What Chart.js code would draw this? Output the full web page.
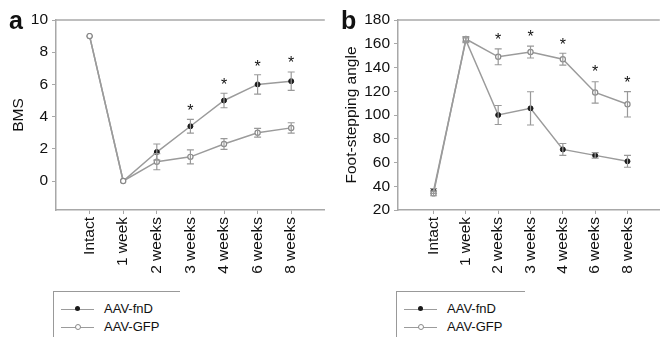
<!DOCTYPE html>
<html>
<head>
<meta charset="utf-8">
<script src="https://cdn.jsdelivr.net/npm/chart.js@4"></script>
<style>
  body{margin:0;background:#fff;font-family:"Liberation Sans",Arial,sans-serif;}
  #wrap{position:relative;width:665px;height:337px;overflow:hidden;}
  canvas{position:absolute;top:0;}
  .letter{position:absolute;font-weight:bold;font-size:25px;color:#111;line-height:1;}
  .legend{position:absolute;top:291px;height:60px;border-top:1px solid #999;border-left:1px solid #999;}
  .row{position:absolute;left:0;height:16px;font-size:13px;color:#111;}
  .sym{position:absolute;left:7px;top:8px;width:33px;border-top:1.5px solid #9b9b9b;}
  .dot{position:absolute;left:14px;top:-4px;width:5px;height:5px;border-radius:50%;}
  .txt{position:absolute;left:50px;top:0;white-space:nowrap;}
</style>
</head>
<body>
<div id="wrap">
  <canvas id="chartA" width="330" height="285" style="left:0"></canvas>
  <canvas id="chartB" width="335" height="285" style="left:330px"></canvas>
  <div class="letter" style="left:9px;top:8px">a</div>
  <div class="letter" style="left:341px;top:8px">b</div>
  <div class="legend" id="legA" style="left:53px;width:126px"></div>
  <div class="legend" id="legB" style="left:396px;width:128px"></div>
</div>
<script>
// categories
const cats = ['Intact', '1 week', '2 weeks', '3 weeks', '4 weeks', '6 weeks', '8 weeks'];
const seriesNames = ['AAV-fnD', 'AAV-GFP'];

// panel a: BMS
const bmsFnd = [9, 0, 1.8, 3.4, 5.0, 6.0, 6.2];
const bmsFndErr = [0, 0, 0.5, 0.43, 0.45, 0.6, 0.57];
const bmsGfp = [9, 0, 1.2, 1.5, 2.3, 3.0, 3.3];
const bmsGfpErr = [0, 0, 0.5, 0.43, 0.33, 0.27, 0.32];
const bmsStars = [null, null, null, 4.6, 6.2, 7.35, 7.55];
const bmsTicks = [0, 2, 4, 6, 8, 10];

// panel b: foot-stepping angle
const angleFnd = [36, 163, 100, 105.6, 71, 66, 61];
const angleFndErr = [2, 2, 8, 14, 5, 2.3, 5];
const angleGfp = [34, 164, 149, 153, 147, 119, 109];
const angleGfpErr = [2, 2, 6.7, 5, 5, 9, 10.7];
const angleStars = [null, null, 166.5, 169.3, 162.3, 139.2, 129.9];
const angleTicks = [20, 40, 60, 80, 100, 120, 140, 160, 180];

const FONT = '"Liberation Sans", Arial, sans-serif';
const GREY = '#9b9b9b';
const AXIS = '#a8a8a8';

function pts(arr) {
  return arr.map((v, i) => ({x: i, y: v}));
}

// error bars, asterisks and top frame line, all placed through the scales
const extras = {
  id: 'extras',
  afterDatasetsDraw(chart, args, opts) {
    let ctx = chart.ctx;
    let xs = chart.scales.x, ys = chart.scales.y;
    let area = chart.chartArea;
    ctx.save();
    // top frame
    ctx.strokeStyle = AXIS;
    ctx.lineWidth = 1.5;
    ctx.beginPath();
    ctx.moveTo(area.left, area.top);
    ctx.lineTo(area.right, area.top);
    ctx.stroke();
    // error bars
    ctx.strokeStyle = '#999';
    ctx.lineWidth = 1.2;
    opts.errors.forEach(set => {
      set.vals.forEach((v, i) => {
        let e = set.err[i];
        if (!e) return;
        let x = xs.getPixelForValue(i);
        let y1 = ys.getPixelForValue(v + e), y2 = ys.getPixelForValue(v - e);
        ctx.beginPath();
        ctx.moveTo(x, y1); ctx.lineTo(x, y2);
        ctx.moveTo(x - 3.5, y1); ctx.lineTo(x + 3.5, y1);
        ctx.moveTo(x - 3.5, y2); ctx.lineTo(x + 3.5, y2);
        ctx.stroke();
      });
    });
    // asterisks
    ctx.fillStyle = '#111';
    ctx.font = '16px ' + FONT;
    ctx.textAlign = 'center';
    ctx.textBaseline = 'alphabetic';
    opts.stars.forEach((s, i) => {
      if (s == null) return;
      ctx.fillText('*', xs.getPixelForValue(i), ys.getPixelForValue(s) + 9);
    });
    ctx.restore();
  }
};

function makeChart(id, fnd, gfp, fndErr, gfpErr, stars, yTicks, yMin, yTitle, titlePad, xMin, yWidth, padRight) {
  let cfg = {
    type: 'line',
    data: {
      datasets: [
        {
          label: seriesNames[1], data: pts(gfp), order: 0,
          borderColor: GREY, borderWidth: 1.5,
          pointBackgroundColor: '#fff', pointBorderColor: '#8a8a8a', pointBorderWidth: 1.2, pointRadius: 2.6
        },
        {
          label: seriesNames[0], data: pts(fnd), order: 1,
          borderColor: GREY, borderWidth: 1.5,
          pointBackgroundColor: '#1a1a1a', pointBorderColor: '#1a1a1a', pointBorderWidth: 1, pointRadius: 2.5
        }
      ]
    },
    options: {
      responsive: false,
      animation: false,
      events: [],
      layout: {padding: {top: 20, right: padRight, left: 0, bottom: 0}},
      plugins: {
        legend: {display: false},
        tooltip: {enabled: false},
        extras: {
          errors: [{vals: fnd, err: fndErr}, {vals: gfp, err: gfpErr}],
          stars: stars
        }
      },
      scales: {
        x: {
          type: 'linear', min: xMin, max: 7,
          afterBuildTicks: s => { s.ticks = cats.map((c, i) => ({value: i})); },
          afterFit: s => { s.height = 75; },
          border: {color: AXIS, width: 1.5},
          grid: {drawOnChartArea: false, color: AXIS, tickLength: 4},
          ticks: {
            autoSkip: false, minRotation: 90, maxRotation: 90, padding: 3,
            color: '#111', font: {family: FONT, size: 15.5},
            callback: v => cats[v]
          }
        },
        y: {
          min: yMin, max: yTicks[yTicks.length - 1],
          afterBuildTicks: s => { s.ticks = yTicks.map(v => ({value: v})); },
          afterFit: s => { s.width = yWidth; },
          border: {color: AXIS, width: 1.5},
          grid: {drawOnChartArea: false, color: AXIS, tickLength: 4},
          ticks: {padding: 4, color: '#111', font: {family: FONT, size: 15.5}},
          title: {display: true, text: yTitle, color: '#111', font: {family: FONT, size: 15.5}, padding: {top: titlePad, bottom: 0}}
        }
      }
    },
    plugins: [extras]
  };
  return new Chart(document.getElementById(id), cfg);
}

makeChart('chartA', bmsFnd, bmsGfp, bmsFndErr, bmsGfpErr, bmsStars, bmsTicks, -1.8, 'BMS', 9, -1, 56, 3);
makeChart('chartB', angleFnd, angleGfp, angleFndErr, angleGfpErr, angleStars, angleTicks, 20, 'Foot-stepping angle', 12, -1.1, 68, 0);

// legends
function buildLegend(id) {
  let box = document.getElementById(id);
  seriesNames.forEach((name, i) => {
    let row = document.createElement('div');
    row.className = 'row';
    row.style.top = (i === 0 ? 9 : 27) + 'px';
    let sym = document.createElement('div');
    sym.className = 'sym';
    let dot = document.createElement('div');
    dot.className = 'dot';
    if (i === 0) {
      dot.style.background = '#1a1a1a';
    } else {
      dot.style.background = '#fff';
      dot.style.border = '1px solid #8a8a8a';
      dot.style.width = '4px'; dot.style.height = '4px';
    }
    sym.appendChild(dot);
    let txt = document.createElement('div');
    txt.className = 'txt';
    txt.innerText = name;
    row.appendChild(sym);
    row.appendChild(txt);
    box.appendChild(row);
  });
}
buildLegend('legA');
buildLegend('legB');
</script>
</body>
</html>
